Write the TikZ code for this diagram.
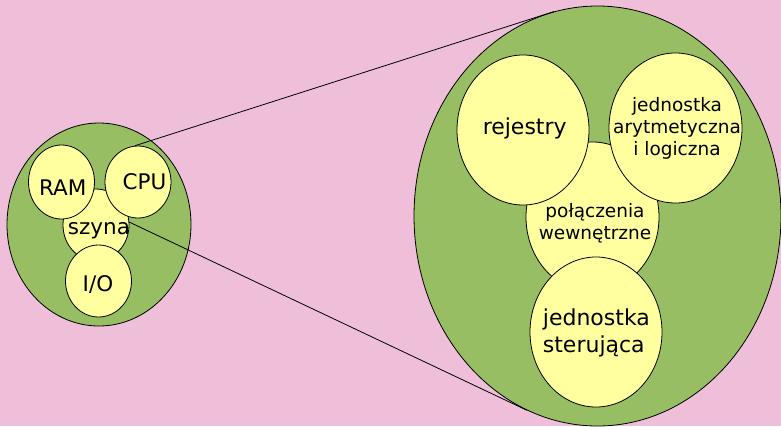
\documentclass[tikz,border=0pt]{standalone}
\usepackage{fontspec}
\setmainfont{DejaVu Sans}
\usetikzlibrary{shapes.geometric}
\definecolor{tlo}{HTML}{EFBFD9}
\definecolor{zielony}{HTML}{97BE62}
\definecolor{zolty}{HTML}{FFFFA0}

\begin{document}
\begin{tikzpicture}[x=1pt,y=-1pt]
	\tikzstyle{none}=[inner sep=0pt]
	\tikzstyle{outer}=[ellipse,draw,fill=zielony,line width=0.8pt,inner sep=0pt]
	\tikzstyle{part}=[ellipse,draw,fill=zolty,line width=0.8pt,inner sep=0pt]
	\tikzstyle{simple}=[-,draw,line width=0.8pt]
	\tikzstyle{big}=[inner sep=0pt,font=\fontsize{21.5}{26.7}\selectfont]
	\tikzstyle{small}=[inner sep=0pt,font=\fontsize{18.5}{21.7}\selectfont]

	\path [use as bounding box, fill=tlo] (0,0) rectangle (781,426);
	\clip (0,0) rectangle (781,426);

	% komputer
		\node [style=outer, minimum width=184, minimum height=203] (0) at (99, 224.5) {};
		\node [style=part, minimum width=66, minimum height=72] (1) at (96, 225) {};
		\node [style=part, minimum width=66, minimum height=74] (2) at (61.5, 182) {};
		\node [style=part, minimum width=66, minimum height=72] (3) at (138, 182) {};
		\node [style=part, minimum width=66, minimum height=72] (4) at (98.5, 281) {};
		\node [style=big, anchor=base] (10) at (62.7, 195) {RAM};
		\node [style=big, anchor=base] (11) at (144.5, 189) {CPU};
		\node [style=big, anchor=base] (12) at (99, 234) {szyna};
		\node [style=big, anchor=base] (13) at (98, 291) {I/O};

	% procesor
		\node [style=outer, minimum width=367, minimum height=420] (5) at (597.5, 216) {};
		\node [style=part, minimum width=133, minimum height=150] (6) at (592.5, 217) {};
		\node [style=part, minimum width=132, minimum height=150] (7) at (523, 130) {};
		\node [style=part, minimum width=133, minimum height=150] (8) at (675.5, 128) {};
		\node [style=part, minimum width=132, minimum height=150] (9) at (596, 332) {};
		\node [style=big, font=\fontsize{22}{26.7}\selectfont, anchor=base] (14) at (524.7, 134) {rejestry};
		\node [style=small, align=center] (15) at (677, 128.5) {jednostka\\arytmetyczna\\i logiczna};
		\node [style=small, align=center] (16) at (595, 223.4) {połączenia\\wewnętrzne};
		\node [style=big, font=\fontsize{22}{26.7}\selectfont, align=left, anchor=west] (17) at (542.7, 332.7) {jednostka\\sterująca};

		\draw [style=simple] (3.95) to (5.102);
		\draw [style=simple] (1.5) to (5.250);

\end{tikzpicture}
\end{document}
